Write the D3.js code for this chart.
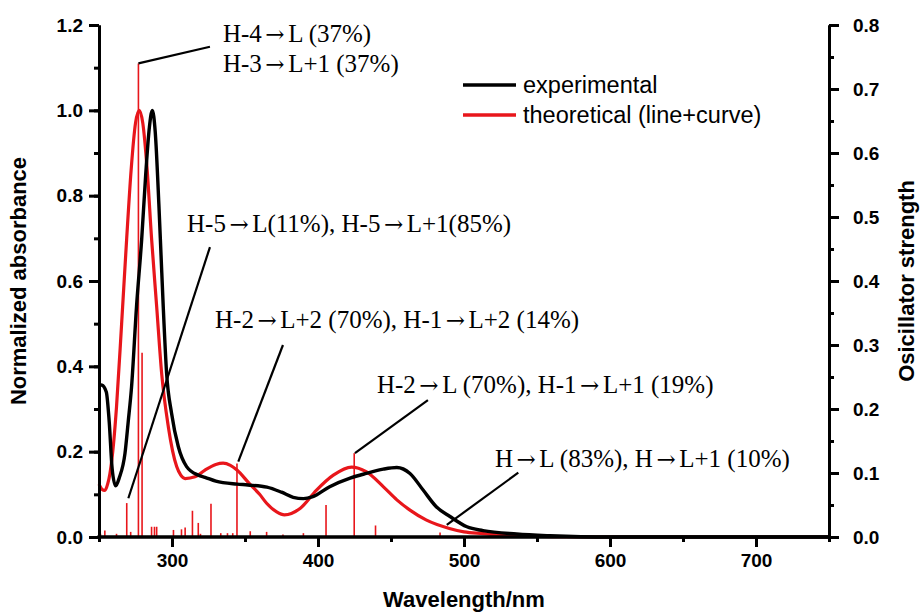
<!DOCTYPE html>
<html><head><meta charset="utf-8">
<script src="https://cdn.jsdelivr.net/npm/d3@7"></script>
<style>body{margin:0;background:#fff}svg{display:block}</style>
</head><body><svg id="c" width="921" height="614"></svg>
<script>
// ---- data ----
const expWavelength = [250,252,255,257,259,261.4,264,267.8,270,272.3,275.7,279.2,282,284.5,286.5,288.5,291,292.5,294,296.3,299.7,304.3,310,318,322.6,330,344.5,352,365,375,383,390,396,408,422,433,444.7,454,463,472,481,490.4,502,513,536,559,600,750];
const expAbsorbance = [0.357,0.356,0.34,0.27,0.16,0.12,0.14,0.196,0.27,0.352,0.54,0.696,0.85,0.96,1.0,0.95,0.78,0.66,0.54,0.384,0.29,0.212,0.165,0.145,0.14,0.131,0.124,0.122,0.117,0.105,0.093,0.09,0.094,0.118,0.138,0.149,0.159,0.163,0.149,0.11,0.071,0.048,0.024,0.015,0.007,0.003,0.0,0.0];
const theoWavelength = [250,252,254,256,257.5,260,262,265.5,268.9,272,275,277.6,280,283,286,289.5,292.9,297.5,303.2,306,309,315.8,322.6,330,335,340,344.5,353,360,364.8,371.7,377,387.7,399,410.5,423,433,445,454,463,474,490,500,513,530,560,600,750];
const theoAbsorbance = [0.124,0.112,0.109,0.125,0.149,0.22,0.305,0.5,0.696,0.86,0.97,1.0,0.97,0.86,0.70,0.54,0.384,0.258,0.165,0.145,0.137,0.141,0.157,0.17,0.173,0.168,0.157,0.125,0.1,0.079,0.059,0.052,0.067,0.11,0.145,0.164,0.153,0.117,0.087,0.063,0.04,0.02,0.012,0.008,0.003,0.001,0.0,0.0];
const stickWavelength = [251,254,262,269,271.7,277,279.5,286,288,289.5,301,306.5,309,314,318,319.5,326.7,333.4,338,341.6,344.5,353.6,364.8,376,390,405.5,424.8,439.4,483.6];
const stickStrength = [0.005,0.01,0.005,0.053,0.008,0.74,0.288,0.016,0.016,0.016,0.011,0.012,0.015,0.041,0.022,0.005,0.052,0.006,0.006,0.006,0.115,0.009,0.008,0.004,0.006,0.05,0.131,0.018,0.007];
const xTicks = [300,400,500,600,700];
const yLeftTicks = [0.0,0.2,0.4,0.6,0.8,1.0,1.2];
const yRightTicks = [0.0,0.1,0.2,0.3,0.4,0.5,0.6,0.7,0.8];
const seriesNames = ["experimental","theoretical (line+curve)"];
const seriesColors = ["#000000","#e8161b"];
// annotations: text lines, leader from (wl,f) to (wl,f), text anchor (wl,f)
const annoText = [
  ["H-4\u2192L (37%)","H-3\u2192L+1 (37%)"],
  ["H-5\u2192L(11%), H-5\u2192L+1(85%)"],
  ["H-2\u2192L+2 (70%), H-1\u2192L+2 (14%)"],
  ["H-2\u2192L (70%), H-1\u2192L+1 (19%)"],
  ["H\u2192L (83%), H\u2192L+1 (10%)"]
];
const annoFrom = [[277,0.74],[270.1,0.0605],[345.4,0.1177],[425.3,0.131],[488.2,0.019]];
const annoTo = [[326,0.766],[326,0.453],[376,0.30],[475.3,0.214],[537.2,0.1005]];
const annoAt = [[334.9,0.7736],[310.3,0.4766],[329.5,0.3266],[440.4,0.225],[521.2,0.1094]];

// ---- layout ----
const svg = d3.select("#c");
const L = 99, R = 829, T = 25, B = 537;
const x = d3.scaleLinear().domain([250,750]).range([L,R]);
const yL = d3.scaleLinear().domain([0,1.2]).range([B,T]);
const yR = d3.scaleLinear().domain([0,0.8]).range([B,T]);
const tickFont = "bold 19px 'Liberation Sans', Arial, sans-serif";

// sticks
svg.append("g").selectAll("line").data(stickWavelength).join("line")
  .attr("x1",d=>x(d)).attr("x2",d=>x(d))
  .attr("y1",yR(0)).attr("y2",(d,i)=>yR(stickStrength[i]))
  .attr("stroke",seriesColors[1]).attr("stroke-width",1.6);

// curves
const line = d3.line().curve(d3.curveMonotoneX);
svg.append("path").attr("d",line(theoWavelength.map((w,i)=>[x(w),yL(theoAbsorbance[i])])))
  .attr("fill","none").attr("stroke",seriesColors[1]).attr("stroke-width",3.2);
svg.append("path").attr("d",line(expWavelength.map((w,i)=>[x(w),yL(expAbsorbance[i])])))
  .attr("fill","none").attr("stroke",seriesColors[0]).attr("stroke-width",3.4);

// axes
function styleAxis(g){
  g.selectAll(".domain").attr("stroke","#000").attr("stroke-width",3);
  g.selectAll(".tick line").attr("stroke","#000").attr("stroke-width",3);
  g.selectAll("text").style("font",tickFont).attr("fill","#000");
}
// bottom
const gx = svg.append("g").attr("transform",`translate(0,${B})`);
gx.call(d3.axisBottom(x).tickValues(d3.range(250,751,50)).tickSize(5).tickFormat("").tickSizeOuter(0));
gx.append("g").call(d3.axisBottom(x).tickValues(xTicks).tickSize(10).tickPadding(7).tickSizeOuter(0));
styleAxis(gx);
gx.selectAll(".domain").attr("d",`M${L-1.5},0H${R+1.5}`);
// left
const gyl = svg.append("g").attr("transform",`translate(${L},0)`);
gyl.call(d3.axisLeft(yL).tickValues(d3.range(0,1.21,0.1)).tickSize(5).tickFormat("").tickSizeOuter(0));
gyl.append("g").call(d3.axisLeft(yL).tickValues(yLeftTicks).tickSize(10).tickPadding(6).tickFormat(d3.format(".1f")).tickSizeOuter(0));
styleAxis(gyl);
// right
const gyr = svg.append("g").attr("transform",`translate(${R},0)`);
gyr.call(d3.axisRight(yR).tickValues(d3.range(0,0.81,0.05)).tickSize(5).tickFormat("").tickSizeOuter(0));
gyr.append("g").call(d3.axisRight(yR).tickValues(yRightTicks).tickSize(10).tickPadding(14).tickFormat(d3.format(".1f")).tickSizeOuter(0));
styleAxis(gyr);

// axis titles
const titleFont = "bold 22px 'Liberation Sans', Arial, sans-serif";
svg.append("text").attr("x",(L+R)/2).attr("y",607).attr("text-anchor","middle").style("font",titleFont).text("Wavelength/nm");
svg.append("text").attr("transform",`translate(26,${(T+B)/2}) rotate(-90)`).attr("text-anchor","middle").style("font",titleFont).text("Normalized absorbance");
svg.append("text").attr("transform",`translate(914,${(T+B)/2}) rotate(-90)`).attr("text-anchor","middle").style("font",titleFont).text("Osicillator strength");

// legend
const lg = svg.append("g");
seriesNames.forEach((n,i)=>{
  const yy = 85 + i*30;
  lg.append("line").attr("x1",463).attr("x2",516).attr("y1",yy).attr("y2",yy).attr("stroke",seriesColors[i]).attr("stroke-width",3.4);
  lg.append("text").attr("x",523).attr("y",yy+8).style("font","23.5px 'Liberation Sans', Arial, sans-serif").text(n);
});

// annotations
const ag = svg.append("g");
annoText.forEach((lines,i)=>{
  ag.append("line").attr("x1",x(annoFrom[i][0])).attr("y1",yR(annoFrom[i][1]))
    .attr("x2",x(annoTo[i][0])).attr("y2",yR(annoTo[i][1])).attr("stroke","#000").attr("stroke-width",2.2);
  lines.forEach((t,j)=>{
    const te = ag.append("text").attr("x",x(annoAt[i][0])).attr("y",yR(annoAt[i][1])+j*30)
      .style("font","25px 'Liberation Serif', 'Times New Roman', serif");
    t.split("\u2192").forEach((part,k)=>{
      if(k>0){
        te.append("tspan").attr("dx",3.5).style("font-family","'DejaVu Serif'").style("font-size","23px").text("\u2192");
        te.append("tspan").attr("dx",3.5).text(part);
      } else te.append("tspan").text(part);
    });
  });
});
</script></body></html>
